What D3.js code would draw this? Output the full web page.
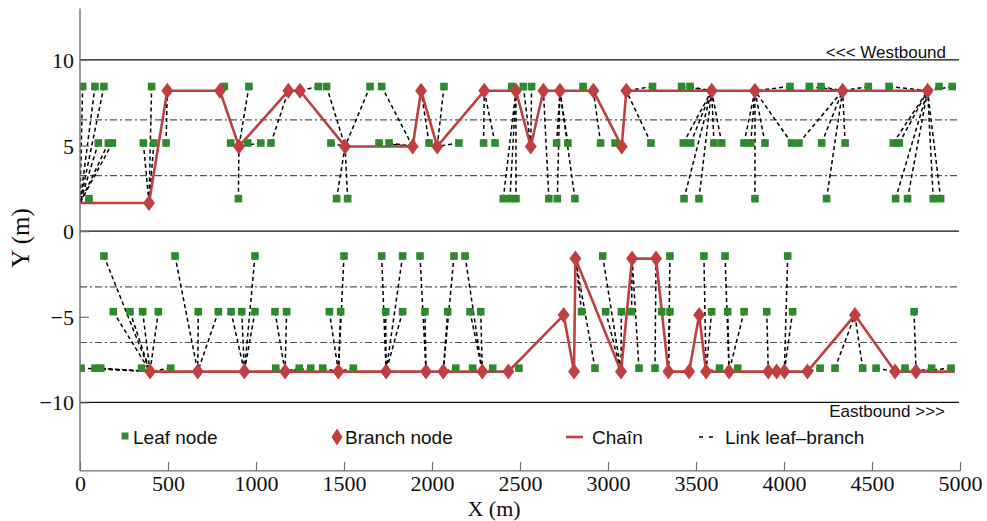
<!DOCTYPE html>
<html>
<head>
<meta charset="utf-8">
<script src="https://cdn.jsdelivr.net/npm/d3@7/dist/d3.min.js"></script>
<style>
  html, body { margin: 0; padding: 0; background: #fff; }
  svg { display: block; }
</style>
</head>
<body>
<svg id="chart" width="987" height="521"></svg>
<script>
// ---------------- DATA ----------------
const xTicks = [0, 500, 1000, 1500, 2000, 2500, 3000, 3500, 4000, 4500, 5000];
const yTicks = [-10, -5, 0, 5, 10];
const roadLines = [-10, 0, 10];
const laneLines = [-6.5, -3.25, 3.25, 6.5];

// Westbound (upper road): chain starts at the left edge
const westChainStart = [0, 1.65];
// Westbound branch nodes [x, y]
const westBranches = [
  [392, 1.65], [496, 8.2], [795, 8.2], [903, 4.95], [1184, 8.2], [1250, 8.2],
  [1506, 4.95], [1890, 4.95], [1938, 8.2], [2030, 4.95], [2297, 8.2], [2477, 8.2],
  [2561, 4.95], [2633, 8.2], [2727, 8.2], [2917, 8.2], [3078, 4.95], [3104, 8.2],
  [3589, 8.2], [3835, 8.2], [4333, 8.2], [4816, 8.2]
];
// Westbound leaf nodes [x, y, x of linked branch / chain point]
const westLeaves = [
  [15, 8.45, 0], [85, 8.45, 0], [136, 8.45, 0], [407, 8.45, 392], [820, 8.45, 795],
  [960, 8.45, 903], [1354, 8.45, 1250], [1401, 8.45, 1506], [1648, 8.45, 1506],
  [1714, 8.45, 1890], [2068, 8.45, 2030], [2453, 8.45, 2477], [2519, 8.45, 2561],
  [2566, 8.45, 2561], [2858, 8.45, 2917], [3253, 8.45, 3104], [3418, 8.45, 3589],
  [3466, 8.45, 3589], [4034, 8.45, 3835], [4144, 8.45, 4333], [4210, 8.45, 4333],
  [4479, 8.45, 4333], [4597, 8.45, 4816], [4881, 8.45, 4816], [4956, 8.45, 4816],
  [104, 5.15, 0], [161, 5.15, 0], [184, 5.15, 0], [360, 5.15, 392], [420, 5.15, 392],
  [489, 5.15, 496], [856, 5.15, 903], [953, 5.15, 903], [1027, 5.15, 903], [1085, 5.15, 1184],
  [1426, 5.15, 1506], [1699, 5.15, 1890], [1756, 5.15, 1890], [1983, 5.15, 1938],
  [2153, 5.15, 2030], [2293, 5.15, 2297], [2358, 5.15, 2297], [2708, 5.15, 2727],
  [2772, 5.15, 2727], [2958, 5.15, 2917], [3040, 5.15, 3078], [3244, 5.15, 3104],
  [3428, 5.15, 3589], [3470, 5.15, 3589], [3602, 5.15, 3589], [3646, 5.15, 3589],
  [3773, 5.15, 3835], [3811, 5.15, 3835], [3892, 5.15, 3835], [4043, 5.15, 3835],
  [4085, 5.15, 4333], [4214, 5.15, 4333], [4347, 5.15, 4333], [4621, 5.15, 4816],
  [4655, 5.15, 4816],
  [51, 1.9, 0], [900, 1.9, 903], [1458, 1.9, 1506], [1521, 1.9, 1506], [2405, 1.9, 2477],
  [2443, 1.9, 2477], [2477, 1.9, 2477], [2664, 1.9, 2633], [2712, 1.9, 2727],
  [2812, 1.9, 2727], [3432, 1.9, 3589], [3517, 1.9, 3589], [3835, 1.9, 3835],
  [4242, 1.9, 4333], [4634, 1.9, 4816], [4702, 1.9, 4816], [4848, 1.9, 4816],
  [4890, 1.9, 4816]
];

// Eastbound (lower road): branch nodes [x, y]
const eastBranches = [
  [398, -8.2], [669, -8.2], [934, -8.2], [1165, -8.2], [1468, -8.2], [1739, -8.2],
  [1966, -8.2], [2064, -8.2], [2286, -8.2], [2434, -8.2], [2748, -4.9], [2807, -8.2],
  [2815, -1.6], [3074, -8.2], [3137, -1.6], [3273, -1.6], [3343, -8.2], [3461, -8.2],
  [3518, -4.9], [3557, -8.2], [3688, -8.2], [3911, -8.2], [3958, -8.2], [4002, -8.2],
  [4133, -8.2], [4403, -4.9], [4631, -8.2], [4750, -8.2]
];
// Eastbound chain runs on to the right edge
const eastChainEnd = [4970, -8.2];
// Eastbound leaf nodes [x, y, x of linked branch]
const eastLeaves = [
  [136, -1.45, 398], [540, -1.45, 669], [994, -1.45, 934], [1500, -1.45, 1468],
  [1714, -1.45, 1739], [1833, -1.45, 1739], [1932, -1.45, 1966], [2125, -1.45, 2064],
  [2188, -1.45, 2286], [2970, -1.45, 3074], [3352, -1.45, 3343], [3545, -1.45, 3557],
  [3665, -1.45, 3688], [4021, -1.45, 4002],
  [189, -4.7, 398], [284, -4.7, 398], [356, -4.7, 398], [445, -4.7, 398], [672, -4.7, 669],
  [786, -4.7, 669], [858, -4.7, 934], [919, -4.7, 934], [994, -4.7, 934], [1108, -4.7, 1165],
  [1174, -4.7, 1165], [1417, -4.7, 1468], [1481, -4.7, 1468], [1737, -4.7, 1739],
  [1833, -4.7, 1739], [1960, -4.7, 1966], [2089, -4.7, 2064], [2216, -4.7, 2286],
  [2277, -4.7, 2286], [2850, -4.7, 2815], [2987, -4.7, 3074], [3076, -4.7, 3074],
  [3134, -4.7, 3137], [3305, -4.7, 3273], [3352, -4.7, 3343], [3589, -4.7, 3557],
  [3680, -4.7, 3688], [3773, -4.7, 3688], [3902, -4.7, 3911], [4049, -4.7, 4002],
  [4739, -4.7, 4750],
  [6, -8.0, 398], [85, -8.0, 398], [118, -8.0, 398], [350, -8.0, 398], [515, -8.0, 398],
  [1112, -8.0, 1165], [1246, -8.0, 1165], [1311, -8.0, 1165], [1379, -8.0, 1468],
  [1553, -8.0, 1468], [2135, -8.0, 2064], [2231, -8.0, 2286], [2345, -8.0, 2286],
  [2494, -8.0, 2434], [2926, -8.0, 2815], [3176, -8.0, 3137], [3267, -8.0, 3273],
  [3634, -8.0, 3557], [3737, -8.0, 3688], [4205, -8.0, 4133], [4290, -8.0, 4403],
  [4447, -8.0, 4403], [4523, -8.0, 4631], [4688, -8.0, 4631], [4839, -8.0, 4750],
  [4949, -8.0, 4750]
];

const legendItems = ["Leaf node", "Branch node", "Chaîn", "Link leaf–branch"];

// ---------------- DRAWING ----------------
const GREEN = "#2f8a2f", RED = "#c0403f";
const svg = d3.select("#chart");
const L = 80, R = 960, T = 8.6, B = 470.9;
const x = d3.scaleLinear().domain([0, 5000]).range([L, R]);
const y = d3.scaleLinear().domain([-14, 13]).range([B, T]);

svg.append("defs").append("clipPath").attr("id", "plotclip")
  .append("rect").attr("x", L).attr("y", T).attr("width", R - L).attr("height", B - T);

const plot = svg.append("g").attr("clip-path", "url(#plotclip)");

// road lines and lane lines
plot.selectAll("line.road").data(roadLines).join("line")
  .attr("x1", x(0)).attr("x2", x(5000) - 1).attr("y1", d => y(d)).attr("y2", d => y(d))
  .attr("stroke", "#111").attr("stroke-width", 1.2);
plot.selectAll("line.lane").data(laneLines).join("line")
  .attr("x1", x(0)).attr("x2", x(5000)).attr("y1", d => y(d)).attr("y2", d => y(d))
  .attr("stroke", "#555").attr("stroke-width", 1.2).attr("stroke-dasharray", "7,3,2,3");

const byX = (a, b) => a[0] - b[0];
const bands = [
  { branches: westBranches, anchors: [westChainStart].concat(westBranches), leaves: westLeaves,
    chain: [westChainStart].concat(westBranches.slice().sort(byX)) },
  { branches: eastBranches, anchors: eastBranches, leaves: eastLeaves,
    chain: eastBranches.slice().sort(byX).concat([eastChainEnd]) }
];

const diamond = "M0,-8L6,0L0,8L-6,0Z";

bands.forEach(band => {
  band.leaves.forEach(lf => {
    const br = band.anchors.find(b => b[0] === lf[2]);
    if (!br) return;
    plot.append("line")
      .attr("x1", x(lf[0])).attr("y1", y(lf[1]))
      .attr("x2", x(br[0])).attr("y2", y(br[1]))
      .attr("stroke", "#000").attr("stroke-width", 1.5).attr("stroke-dasharray", "4,3");
  });
});
bands.forEach(band => {
  plot.append("path")
    .attr("d", d3.line().x(d => x(d[0])).y(d => y(d[1]))(band.chain))
    .attr("fill", "none").attr("stroke", RED).attr("stroke-width", 2.6)
    .attr("stroke-linejoin", "round");
});
bands.forEach(band => {
  plot.selectAll(null).data(band.leaves).join("rect")
    .attr("x", d => x(d[0]) - 3.8).attr("y", d => y(d[1]) - 3.8)
    .attr("width", 7.6).attr("height", 7.6).attr("fill", GREEN);
});
bands.forEach(band => {
  plot.selectAll(null).data(band.branches).join("path")
    .attr("d", diamond)
    .attr("transform", d => `translate(${x(d[0])},${y(d[1])})`)
    .attr("fill", RED);
});

// axes
const axisColor = "#707070";
const yAxis = d3.axisLeft(y).tickValues(yTicks).tickSize(-9).tickPadding(6)
  .tickFormat(d => d < 0 ? "\u2212" + Math.abs(d) : d);
const gy = svg.append("g").attr("transform", `translate(${L},0)`).call(yAxis);
gy.select(".domain").attr("stroke", axisColor).attr("stroke-width", 1.4).attr("d", `M0,${T}V${B}`);
gy.selectAll(".tick line").attr("stroke", axisColor).attr("stroke-width", 1.2);
gy.selectAll(".tick text").attr("font-family", "Liberation Serif, Times New Roman, serif")
  .attr("font-size", 22).attr("fill", "#111").attr("x", -6).attr("dy", "0.34em");

const xAxis = d3.axisBottom(x).tickValues(xTicks).tickSize(-9).tickPadding(4).tickFormat(d3.format("d"));
const gx = svg.append("g").attr("transform", `translate(0,${B})`).call(xAxis);
gx.select(".domain").attr("stroke", axisColor).attr("stroke-width", 1.4).attr("d", `M${L},0H${R}`);
gx.selectAll(".tick line").attr("stroke", axisColor).attr("stroke-width", 1.2);
gx.selectAll(".tick text").attr("font-family", "Liberation Serif, Times New Roman, serif")
  .attr("font-size", 22).attr("fill", "#111").attr("y", 4.1).attr("dy", "0.75em");

// axis titles
svg.append("text").attr("x", 494).attr("y", 516).attr("text-anchor", "middle")
  .attr("font-family", "Liberation Serif, Times New Roman, serif").attr("font-size", 22)
  .attr("fill", "#111").text("X (m)");
svg.append("text").attr("transform", "translate(29,238) rotate(-90)").attr("text-anchor", "middle")
  .attr("font-family", "Liberation Serif, Times New Roman, serif").attr("font-size", 25)
  .attr("fill", "#111").text("Y (m)");

// direction labels
svg.append("text").attr("x", 946).attr("y", 58).attr("text-anchor", "end")
  .attr("font-family", "Liberation Sans, Arial, sans-serif").attr("font-size", 17)
  .attr("fill", "#111").text("<<< Westbound");
svg.append("text").attr("x", 945).attr("y", 417).attr("text-anchor", "end")
  .attr("font-family", "Liberation Sans, Arial, sans-serif").attr("font-size", 17)
  .attr("fill", "#111").text("Eastbound >>>");

// legend
const ly = 437;
const lg = svg.append("g").attr("font-family", "Liberation Sans, Arial, sans-serif")
  .attr("font-size", 19).attr("fill", "#111");
lg.append("rect").attr("x", 121.5).attr("y", ly - 4.5).attr("width", 7).attr("height", 7).attr("fill", GREEN);
lg.append("text").attr("x", 133).attr("y", ly + 7).text(legendItems[0]);
lg.append("path").attr("d", "M0,-8.5L5.5,0L0,8.5L-5.5,0Z").attr("transform", `translate(337,${ly})`).attr("fill", RED);
lg.append("text").attr("x", 345).attr("y", ly + 7).text(legendItems[1]);
lg.append("line").attr("x1", 566).attr("x2", 583).attr("y1", ly).attr("y2", ly)
  .attr("stroke", RED).attr("stroke-width", 2.6);
lg.append("text").attr("x", 592).attr("y", ly + 7).text(legendItems[2]);
lg.append("line").attr("x1", 699).attr("x2", 714).attr("y1", ly).attr("y2", ly)
  .attr("stroke", "#000").attr("stroke-width", 1.5).attr("stroke-dasharray", "4,6");
lg.append("text").attr("x", 725).attr("y", ly + 7).text(legendItems[3]);
</script>
</body>
</html>
